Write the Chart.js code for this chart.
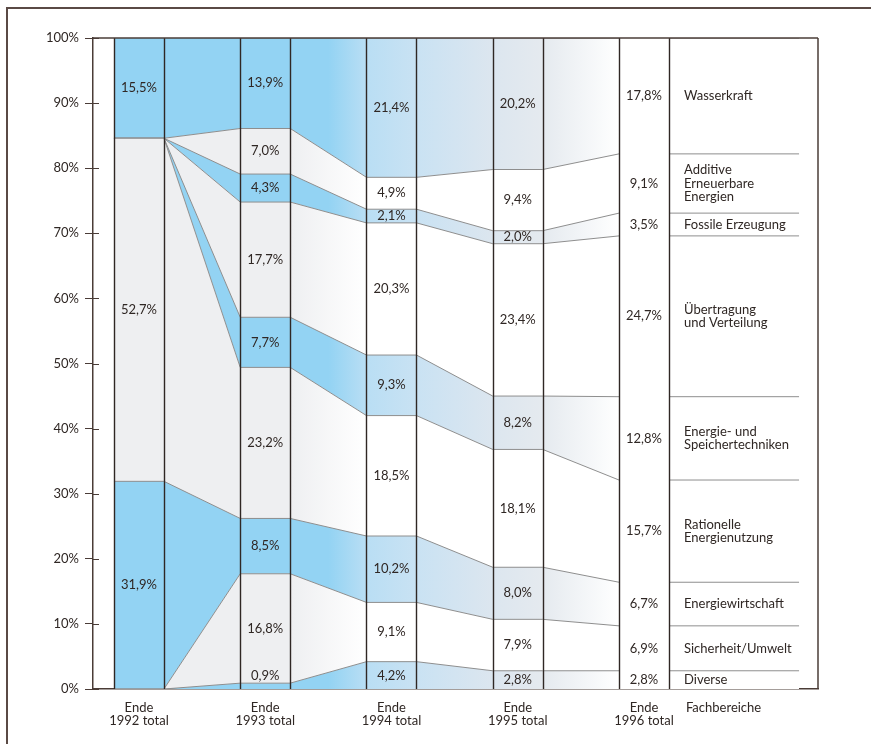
<!DOCTYPE html>
<html lang="de">
<head>
<meta charset="UTF-8">
<script src="https://cdn.jsdelivr.net/npm/chart.js@4"></script>
<title>Fachbereiche Ende 1992 - Ende 1996</title>
<style>
  body { margin: 0; background: #fff; }
</style>
</head>
<body>
<canvas id="chart" width="871" height="744"></canvas>
<script>
// shares per field, bottom to top, Ende 1992 .. Ende 1996
const years = ['1992 total', '1993 total', '1994 total', '1995 total', '1996 total'];
const categories = [
  'Diverse',
  'Sicherheit/Umwelt',
  'Energiewirtschaft',
  'Rationelle\nEnergienutzung',
  'Energie- und\nSpeichertechniken',
  'Übertragung\nund Verteilung',
  'Fossile Erzeugung',
  'Additive\nErneuerbare\nEnergien',
  'Wasserkraft'
];
const diverse       = [0,    0.9,  4.2,  2.8,  2.8];
const sicherheit    = [0,    16.8, 9.1,  7.9,  6.9];
const energiewirt   = [31.9, 8.5,  10.2, 8.0,  6.7];
const rationelle    = [52.7, 23.2, 18.5, 18.1, 15.7];
const speicher      = [0,    7.7,  9.3,  8.2,  12.8];
const uebertragung  = [0,    17.7, 20.3, 23.4, 24.7];
const fossile       = [0,    4.3,  2.1,  2.0,  3.5];
const additive      = [0,    7.0,  4.9,  9.4,  9.1];
const wasserkraft   = [15.5, 13.9, 21.4, 20.2, 17.8];
const series = [diverse, sicherheit, energiewirt, rationelle, speicher,
                uebertragung, fossile, additive, wasserkraft];
const yTicks = [0, 10, 20, 30, 40, 50, 60, 70, 80, 90, 100];
const lastLabel = 'Fachbereiche';

const W = 0.198;        // half bar width (in year units)
const LABEL_END = 5.228; // end of the thin lines in the label column
const INK = '#2f2724';
const FONT = 'Lato, "Open Sans", sans-serif';

const fmt = v => v.toFixed(1).replace('.', ',') + '%';

function bandFill(ctx, blue) {
  const chart = ctx.chart, area = chart.chartArea, x = chart.scales.x;
  if (!area || !x) return blue ? '#93d3f3' : '#eeeff1';
  const g = chart.ctx.createLinearGradient(area.left, 0, area.right, 0);
  const stop = (v, c) => g.addColorStop(
    Math.min(1, Math.max(0, (x.getPixelForValue(v) - area.left) / area.width)), c);
  if (blue) {
    stop(1.5, '#93d3f3');
    stop(1.8, '#b9def4');
    stop(2.2, '#c9e2f3');
    stop(2.8, '#dce6ef');
    stop(3.2, '#e5eaef');
    stop(3.8, '#ffffff');
  } else {
    stop(1.2, '#eeeff1');
    stop(1.8, '#ffffff');
  }
  return g;
}

const datasets = series.map((s, k) => {
  const pts = [];
  s.forEach((v, i) => { pts.push({x: i - W, y: v}, {x: i + W, y: v}); });
  pts.push({x: LABEL_END, y: s[s.length - 1]});
  return {
    label: categories[k].replace(/\n/g, ' '),
    data: pts,
    fill: k === 0 ? 'origin' : '-1',
    backgroundColor: ctx => bandFill(ctx, k % 2 === 0),
    borderColor: '#8e8e8e',
    borderWidth: 1,
    pointRadius: 0,
    tension: 0,
    segment: {
      // no line inside the last (white) column
      borderColor: c => (c.p0.parsed.x >= 4 - W - 1e-6 && c.p1.parsed.x <= 4 + W + 1e-6)
        ? 'rgba(0,0,0,0)' : '#8e8e8e'
    }
  };
});

const overlay = {
  id: 'overlay',
  afterDatasetsDraw(chart) {
    const {ctx, chartArea: a, scales: {x, y}} = chart;
    const line = (x1, y1, x2, y2) => { ctx.beginPath(); ctx.moveTo(x1, y1); ctx.lineTo(x2, y2); ctx.stroke(); };
    ctx.save();

    // column edges
    ctx.strokeStyle = INK;
    ctx.lineWidth = 1.4;
    years.forEach((_, i) => {
      [i - W, i + W].forEach(v => {
        const px = Math.round(x.getPixelForValue(v)) + 0.5;
        line(px, a.top, px, a.bottom);
      });
    });

    // top and right frame, tick stubs
    ctx.strokeStyle = '#4a3c37';
    ctx.lineWidth = 1.5;
    line(a.left, a.top, a.right, a.top);
    line(a.right, a.top, a.right, a.bottom);
    ctx.lineWidth = 1;
    yTicks.forEach(t => { const py = Math.round(y.getPixelForValue(t)) + 0.5; line(a.left, py, a.left + 6, py); });

    // values in the columns
    ctx.fillStyle = INK;
    ctx.font = '13px ' + FONT;
    ctx.textAlign = 'center';
    ctx.textBaseline = 'middle';
    years.forEach((_, i) => {
      let base = 0;
      series.forEach(s => {
        const v = s[i];
        if (v > 0) {
          const mid = v < 1.5 ? base + 2.1 : base + v / 2;
          ctx.fillText(fmt(v), x.getPixelForValue(i), y.getPixelForValue(mid));
        }
        base += v;
      });
    });

    // field names next to the last column
    ctx.textAlign = 'left';
    const lx = x.getPixelForValue(4 + W) + 15;
    let base = 0;
    series.forEach((s, k) => {
      const v = s[s.length - 1];
      const lines = categories[k].split('\n');
      const cy = y.getPixelForValue(base + v / 2);
      lines.forEach((t, j) => ctx.fillText(t, lx, cy + (j - (lines.length - 1) / 2) * 13.5));
      base += v;
    });

    ctx.restore();
  },
  afterDraw(chart) {
    const ctx = chart.ctx;
    ctx.save();
    ctx.strokeStyle = '#5a4a45';
    ctx.lineWidth = 2;
    ctx.beginPath();
    ctx.moveTo(7, chart.height);
    ctx.lineTo(7, 8);
    ctx.lineTo(chart.width, 8);
    ctx.stroke();
    ctx.restore();
  }
};

new Chart(document.getElementById('chart'), {
  type: 'line',
  data: { datasets },
  plugins: [overlay],
  options: {
    responsive: false,
    animation: false,
    events: [],
    layout: { padding: { top: 38, right: 53, bottom: 0, left: 0 } },
    plugins: { legend: { display: false }, tooltip: { enabled: false } },
    scales: {
      x: {
        type: 'linear',
        min: -0.364,
        max: 5.378,
        afterBuildTicks: s => { s.ticks = [0, 1, 2, 3, 4, 4.63].map(v => ({value: v})); },
        afterFit: s => { s.height = 55; },
        grid: { display: false },
        border: { display: true, color: '#4a3c37', width: 1.5 },
        ticks: {
          autoSkip: false,
          maxRotation: 0,
          padding: 4,
          color: INK,
          font: { family: FONT, size: 13, lineHeight: 1.0 },
          callback: (v, i) => i < years.length ? ['Ende', years[i]] : lastLabel
        }
      },
      y: {
        stacked: true,
        min: 0,
        max: 100,
        afterBuildTicks: s => { s.ticks = yTicks.map(v => ({value: v})); },
        afterFit: s => { s.width = 93; },
        grid: { drawOnChartArea: false, tickLength: 8, color: '#4a3c37' },
        border: { display: true, color: '#4a3c37', width: 1.5 },
        ticks: {
          padding: 6,
          color: INK,
          font: { family: FONT, size: 13 },
          callback: v => v + '%'
        }
      }
    }
  }
});
</script>
</body>
</html>
